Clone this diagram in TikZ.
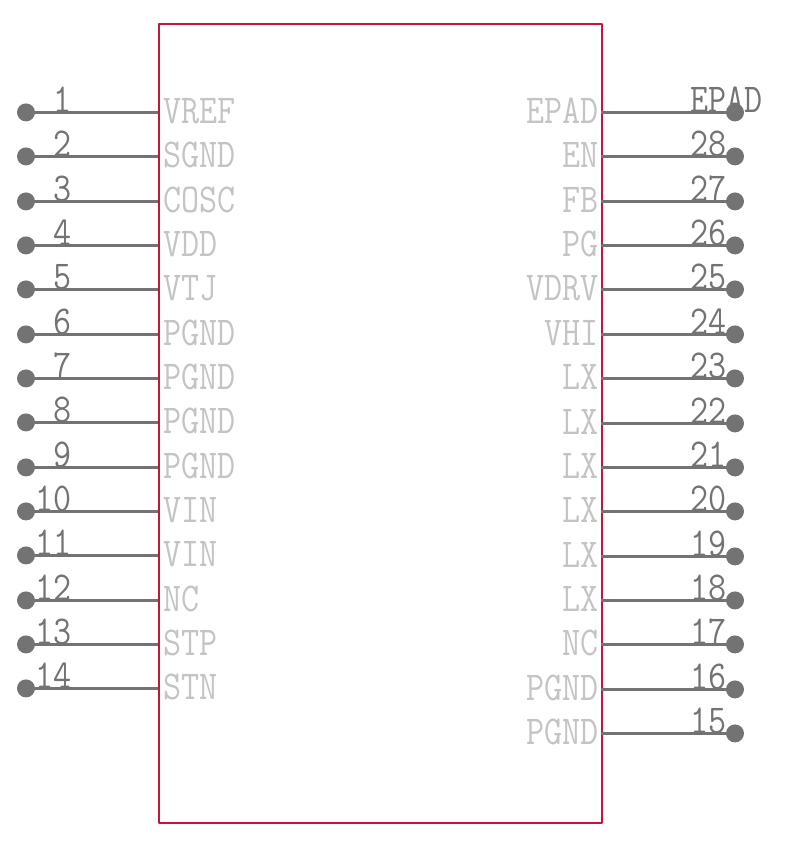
\documentclass[tikz,border=0pt]{standalone}
\usepackage{fontspec}
\newfontfamily\pinfont{Latin Modern Mono}[FakeStretch=0.855]
\definecolor{pincol}{HTML}{737373}
\definecolor{namecol}{HTML}{C4C4C4}
\definecolor{bodycol}{HTML}{C8143C}
\tikzset{
  dotnode/.style={circle,fill=pincol,inner sep=0pt,minimum size=18bp},
  wire/.style={draw=pincol,line width=3.5bp},
  bodybox/.style={draw=bodycol,line width=2.4bp,line join=round},
  txt/.style={font=\pinfont\fontsize{41bp}{41bp}\selectfont,inner sep=0pt},
  pinname/.style={txt,text=namecol},
  pinnum/.style={txt,text=pincol},
}
\begin{document}
\begin{tikzpicture}[x=1bp,y=-1bp]
\useasboundingbox (0,0) rectangle (800,845);
\node[bodybox,minimum width=443bp,minimum height=799bp,inner sep=0pt,anchor=north west] (body) at (158,22.5) {};
% left side
\foreach \i/\nm [evaluate=\i as \yy using {round(112+44.33*(\i-1))+0.4}] in {1/VREF,2/SGND,3/COSC,4/VDD,5/VTJ,6/PGND,7/PGND,8/PGND,9/PGND,10/VIN,11/VIN,12/NC,13/STP,14/STN}{
  \node[dotnode] (L\i) at (26,\yy) {};
  \coordinate (LB\i) at (158,\yy);
  \draw[wire] (L\i.center) -- (LB\i);
  \node[pinname,anchor=base west] (LN\i) at (163,\yy+11.5) {\nm};
  \node[pinnum,anchor=base east] (LP\i) at (72,\yy) {\i};
}
% right side
\foreach \k/\p/\nm [evaluate=\k as \yy using {round(112+44.36*\k)+0.4}] in {0/EPAD/EPAD,1/28/EN,2/27/FB,3/26/PG,4/25/VDRV,5/24/VHI,6/23/LX,7/22/LX,8/21/LX,9/20/LX,10/19/LX,11/18/LX,12/17/NC,13/16/PGND,14/15/PGND}{
  \node[dotnode] (R\p) at (735,\yy) {};
  \coordinate (RB\p) at (601,\yy);
  \draw[wire] (R\p.center) -- (RB\p);
  \node[pinname,anchor=base east] (RN\p) at (599,\yy+11.5) {\nm};
  \node[pinnum,anchor=base west] (RP\p) at (690,\yy) {\p};
}
\end{tikzpicture}
\end{document}
